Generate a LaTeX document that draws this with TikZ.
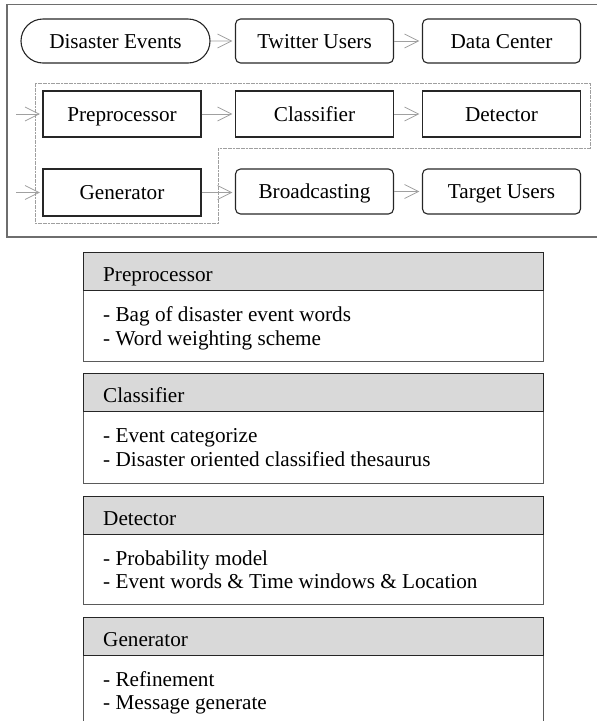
\documentclass[tikz,border=0pt]{standalone}
\usepackage{fontspec}
\setmainfont{Liberation Serif}
\usetikzlibrary{arrows.meta,shapes.misc}
\definecolor{arrgray}{HTML}{A0A0A0}
\definecolor{framegray}{HTML}{6E6E6E}
\definecolor{hdrfill}{HTML}{D9D9D9}
\definecolor{boxline}{HTML}{262626}
\definecolor{panelline}{HTML}{5A5A5A}
\tikzset{
  txt/.style={font=\fontsize{21.2}{23.5}\selectfont},
  sqbox/.style={txt, draw=boxline, line width=1.1pt, rectangle, minimum width=158pt, minimum height=46pt, inner sep=0pt, text height=14.6pt, text depth=0pt},
  rdbox/.style={sqbox, rounded corners=5pt},
  stadium/.style={sqbox, rounded rectangle, minimum width=189pt, minimum height=44pt},
  flow/.style={draw=arrgray, line width=0.8pt, shorten >=2.5pt, -{Straight Barb[length=14pt,width=14pt]}},
  hdr/.style={draw=boxline, line width=1.1pt, fill=hdrfill, rectangle, minimum width=460pt, minimum height=38pt, inner sep=0pt, anchor=north west},
  body/.style={draw=panelline, line width=1.1pt, rectangle, minimum width=460pt, inner sep=0pt, anchor=north west},
  line/.style={txt, inner sep=0pt, anchor=base west},
  group/.style={draw=gray!75, line width=1pt, dash pattern=on 2pt off 0.6pt}
}
\begin{document}
\begin{tikzpicture}[x=1pt,y=-1pt]
\useasboundingbox (0,0) rectangle (597,721);
\clip (0,0) rectangle (597,721);
% outer frame
\draw[framegray, line width=1.4pt] (7,4.5) rectangle (600,237);
% dashed group
\draw[group] (35,83) -- (590,83) -- (590,148) -- (218,148) -- (218,223) -- (35,223) -- cycle;
% row 1
\node[stadium] (dis) at (115.5,41) {Disaster Events};
\node[rdbox, minimum height=44pt] (tw) at (314.5,41) {Twitter Users};
\node[rdbox, minimum height=44pt] (dc) at (501.5,41) {Data Center};
% row 2
\node[sqbox] (pre) at (122,114) {Preprocessor};
\node[sqbox] (cls) at (314.5,114) {Classifier};
\node[sqbox] (det) at (501.5,114) {Detector};
% row 3
\node[sqbox, minimum height=47pt] (gen) at (122,192.5) {Generator};
\node[rdbox, minimum height=45pt] (brd) at (314.5,191.5) {Broadcasting};
\node[rdbox, minimum height=45pt] (tgt) at (501.5,191.5) {Target Users};
\coordinate (in1) at (16,114);
\coordinate (in2) at (16,192.5);
\draw[flow] (dis) -- (tw);
\draw[flow] (tw) -- (dc);
\draw[flow] (in1) -- (pre);
\draw[flow] (pre) -- (cls);
\draw[flow] (cls) -- (det);
\draw[flow] (in2) -- (gen);
\draw[flow] (gen.east) -- (brd.west |- gen.east);
\draw[flow] (brd) -- (tgt);
% panels
\node[body, minimum height=71pt] (pb) at (83,290) {};
\node[hdr] (ph) at (83,252) {};
\node[line] (ph1) at (103,281) {Preprocessor};
\node[line] (pb1) at (103,321.5) {- Bag of disaster event words};
\node[line] (pb2) at (103,345) {- Word weighting scheme};
\node[body, minimum height=72pt] (cb) at (83,411) {};
\node[hdr] (ch) at (83,373) {};
\node[line] (ch1) at (103,402) {Classifier};
\node[line] (cb1) at (103,442.5) {- Event categorize};
\node[line] (cb2) at (103,466) {- Disaster oriented classified thesaurus};
\node[body, minimum height=70pt] (db) at (83,534) {};
\node[hdr] (dh) at (83,496) {};
\node[line] (dh1) at (103,525) {Detector};
\node[line] (db1) at (103,565) {- Probability model};
\node[line] (db2) at (103,588.5) {- Event words \& Time windows \& Location};
\node[body, minimum height=72pt] (gb) at (83,655) {};
\node[hdr] (gh) at (83,617) {};
\node[line] (gh1) at (103,646) {Generator};
\node[line] (gb1) at (103,686) {- Refinement};
\node[line] (gb2) at (103,709.5) {- Message generate};
\end{tikzpicture}
\end{document}
